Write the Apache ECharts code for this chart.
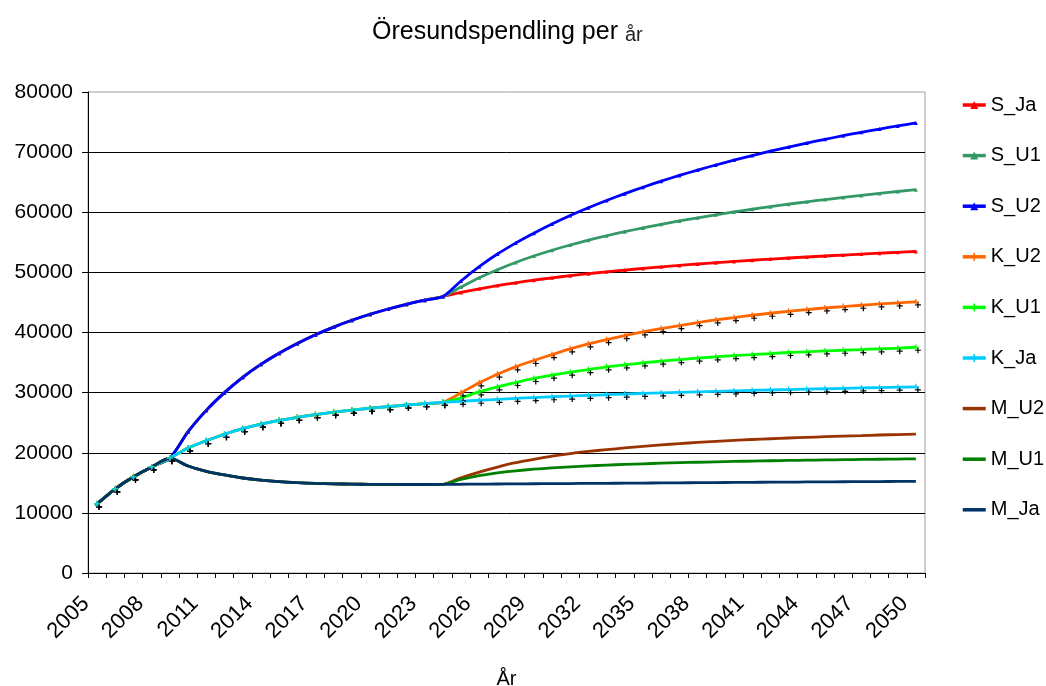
<!DOCTYPE html>
<html>
<head>
<meta charset="utf-8">
<script src="https://cdn.jsdelivr.net/npm/echarts@6/dist/echarts.min.js"></script>
<style>
  html, body { margin: 0; padding: 0; background: #fff; }
  #chart { width: 1046px; height: 686px; }
</style>
</head>
<body>
<div id="chart"></div>
<script>
// Years on the category axis
const years = [];
for (let y = 2005; y <= 2050; y++) years.push(String(y));

// 2005-2009: common to all scenarios
const baseAll = [11500, 14000, 16000, 17650, 19100];

// 2010-2024: shared path per region
const sShared = [23500, 27050, 30000, 32550, 34700, 36550, 38170, 39620, 40900, 42030, 43030, 43910, 44690, 45370, 45970];
const kShared = [20800, 22000, 23080, 24000, 24760, 25380, 25900, 26350, 26750, 27100, 27400, 27680, 27940, 28170, 28380];
const mShared = [17800, 16900, 16300, 15800, 15450, 15200, 15030, 14900, 14830, 14780, 14750, 14730, 14720, 14720, 14750];

// 2025-2050: scenario branches
const sJaTail = [46660, 47270, 47800, 48270, 48700, 49090, 49450, 49780, 50090, 50380, 50655, 50915, 51160, 51390, 51610, 51820, 52020, 52210, 52390, 52560, 52725, 52885, 53040, 53190, 53335, 53475];
const sU1Tail = [47550, 49100, 50450, 51650, 52720, 53680, 54550, 55350, 56090, 56770, 57400, 57990, 58550, 59080, 59580, 60050, 60500, 60930, 61340, 61730, 62100, 62460, 62800, 63130, 63450, 63760];
const sU2Tail = [48570, 50950, 53050, 54870, 56510, 58030, 59450, 60750, 61950, 63090, 64160, 65170, 66120, 67010, 67860, 68670, 69430, 70150, 70840, 71500, 72130, 72730, 73300, 73840, 74360, 74860];
const kU2Tail = [29970, 31630, 33070, 34290, 35340, 36330, 37280, 38110, 38830, 39490, 40100, 40650, 41150, 41650, 42090, 42480, 42870, 43200, 43530, 43810, 44090, 44310, 44530, 44750, 44920, 45080];
const kU1Tail = [29140, 30130, 30960, 31680, 32350, 32900, 33400, 33840, 34290, 34620, 34950, 35230, 35500, 35730, 35950, 36170, 36330, 36500, 36670, 36780, 36940, 37050, 37160, 37280, 37390, 37550];
const kJaTail = [28560, 28730, 28890, 29040, 29180, 29310, 29430, 29545, 29655, 29760, 29860, 29955, 30045, 30130, 30210, 30288, 30364, 30438, 30510, 30580, 30648, 30714, 30778, 30840, 30900, 30958];
const mU2Tail = [15850, 16790, 17620, 18340, 18890, 19420, 19860, 20220, 20520, 20800, 21070, 21300, 21520, 21720, 21900, 22060, 22200, 22330, 22450, 22560, 22670, 22770, 22860, 22950, 23030, 23100];
const mU1Tail = [15550, 16190, 16650, 16990, 17260, 17480, 17660, 17815, 17945, 18060, 18165, 18260, 18345, 18420, 18490, 18555, 18615, 18670, 18720, 18765, 18807, 18847, 18885, 18921, 18955, 18987];
const mJaTail = [14760, 14780, 14800, 14820, 14840, 14860, 14880, 14900, 14920, 14940, 14960, 14980, 15000, 15020, 15040, 15060, 15080, 15100, 15120, 15140, 15160, 15180, 15200, 15210, 15230, 15250];

const yTicks = { min: 0, max: 80000, step: 10000 };

const seriesNames = ['S_Ja', 'S_U1', 'S_U2', 'K_U2', 'K_U1', 'K_Ja', 'M_U2', 'M_U1', 'M_Ja'];
const seriesColors = ['#ff0000', '#339966', '#0000ff', '#ff6600', '#00ff00', '#00ccff', '#993300', '#008000', '#003366'];

const full = (shared, tail) => baseAll.concat(shared, tail);
const seriesData = {
  S_Ja: full(sShared, sJaTail),
  S_U1: full(sShared, sU1Tail),
  S_U2: full(sShared, sU2Tail),
  K_U2: full(kShared, kU2Tail),
  K_U1: full(kShared, kU1Tail),
  K_Ja: full(kShared, kJaTail),
  M_U2: full(mShared, mU2Tail),
  M_U1: full(mShared, mU1Tail),
  M_Ja: full(mShared, mJaTail)
};

const FONT = 'Liberation Sans, Arial, Helvetica, sans-serif';
const PLUS = 'path://M0,4H10V6H0Z M4,0H6V10H4Z';

function makeSeries(name, i) {
  const region = name.charAt(0);
  const s = {
    name: name,
    type: 'line',
    data: seriesData[name],
    smooth: 0.25,
    showAllSymbol: true,
    color: seriesColors[i],
    lineStyle: { width: 2.8, color: seriesColors[i] },
    emphasis: { disabled: true },
    animation: false
  };
  if (region === 'S') {
    s.symbol = 'triangle';
    s.symbolSize = 4;
    s.itemStyle = { color: seriesColors[i] };
  } else if (region === 'K') {
    s.symbol = PLUS;
    s.symbolSize = 6;
    s.itemStyle = { color: seriesColors[i], shadowColor: '#000', shadowOffsetX: 2, shadowOffsetY: 3, shadowBlur: 0 };
  } else {
    s.symbol = 'none';
  }
  return s;
}

// Legend entries: K markers without the offset shadow, M entries as plain lines
function legendEntry(n) {
  const region = n.charAt(0);
  if (region === 'K') return { name: n, itemStyle: { shadowColor: 'rgba(0,0,0,0)' } };
  if (region === 'M') return { name: n, itemStyle: { opacity: 0 } };
  return { name: n };
}

const chart = echarts.init(document.getElementById('chart'), null, { renderer: 'canvas' });
chart.setOption({
  backgroundColor: '#ffffff',
  animation: false,
  title: {
    text: '{a|Öresundspendling per }{b|år}',
    left: 367,
    top: 14,
    textStyle: {
      fontWeight: 'normal',
      rich: {
        a: { fontFamily: FONT, fontSize: 25, fontWeight: 'normal', color: '#000' },
        b: { fontFamily: FONT, fontSize: 20, fontWeight: 'normal', color: '#222', padding: [6, 0, 0, 0] }
      }
    }
  },
  legend: {
    orient: 'vertical',
    left: 961,
    top: 95,
    padding: 0,
    itemWidth: 23,
    itemHeight: 10,
    itemGap: 30.6,
    lineStyle: { width: 3.5 },
    textStyle: { fontFamily: FONT, fontSize: 20, color: '#000', lineHeight: 20 },
    data: seriesNames.map(legendEntry)
  },
  grid: {
    left: 88,
    right: 121,
    top: 92,
    bottom: 113,
    containLabel: false,
    outerBoundsMode: 'none',
    show: true,
    borderColor: '#a0a0a0',
    borderWidth: 1
  },
  xAxis: {
    type: 'category',
    data: years,
    boundaryGap: true,
    name: 'År',
    nameLocation: 'middle',
    nameGap: 96,
    nameTextStyle: { fontFamily: FONT, fontSize: 20, color: '#000' },
    axisLine: { lineStyle: { color: '#000', width: 1 } },
    axisTick: { show: true, interval: 0, length: 5, lineStyle: { color: '#000' } },
    axisLabel: { interval: 2, rotate: 45, margin: 16, padding: [0, 16, 0, 0], fontFamily: FONT, fontSize: 22, color: '#000' },
    splitLine: { show: false }
  },
  yAxis: {
    type: 'value',
    min: yTicks.min,
    max: yTicks.max,
    interval: yTicks.step,
    axisLine: { show: true, lineStyle: { color: '#000', width: 1 } },
    axisTick: { show: true, length: 6, lineStyle: { color: '#000' } },
    axisLabel: { margin: 15, fontFamily: FONT, fontSize: 21, color: '#000', formatter: v => String(v) },
    splitLine: { show: true, showMaxLine: false, lineStyle: { color: '#000', width: 1 } }
  },
  series: seriesNames.map(makeSeries)
});
</script>
</body>
</html>
